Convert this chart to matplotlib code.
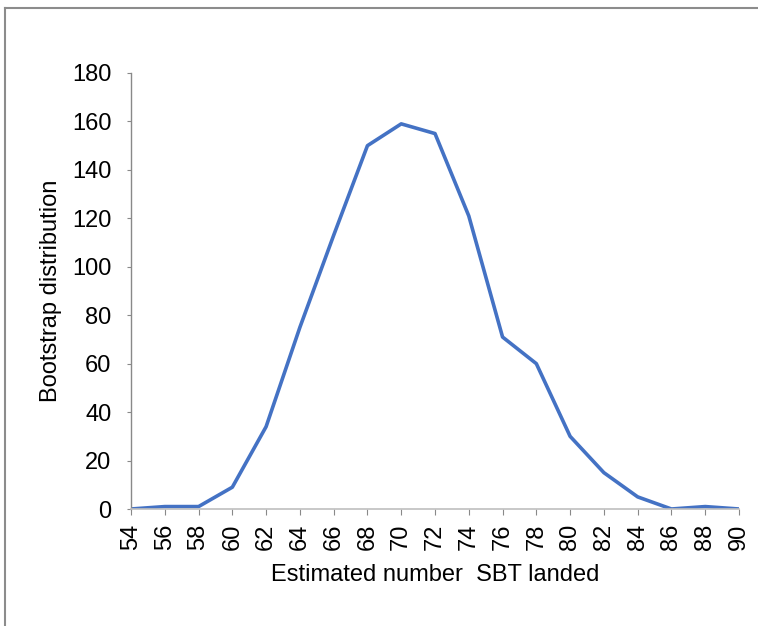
import matplotlib
matplotlib.use("Agg")
import matplotlib.pyplot as plt
from matplotlib.lines import Line2D

plt.rcParams['font.family'] = ['Liberation Sans', 'DejaVu Sans']

# data
landed = [54, 56, 58, 60, 62, 64, 66, 68, 70, 72, 74, 76, 78, 80, 82, 84, 86, 88, 90]
counts = [0, 1, 1, 9, 34, 75, 113, 150, 159, 155, 121, 71, 60, 30, 15, 5, 0, 1, 0]
y_ticks = [0, 20, 40, 60, 80, 100, 120, 140, 160, 180]

dpi = 100
W, H = 758, 626
fig = plt.figure(figsize=(W / dpi, H / dpi), dpi=dpi)
ax = fig.add_axes([131 / W, 1 - 509 / H, (739 - 131) / W, (509 - 73) / H])

# category axis, points sit on the ticks
pos = list(range(len(landed)))
ax.plot(pos, counts, color='#4472C4', lw=2.6, solid_joinstyle='round')

ax.set_xlim(0, len(landed) - 1)
ax.set_ylim(0, 180)
ax.set_xticks(pos)
ax.set_xticklabels([str(v) for v in landed], rotation=90, fontsize=17)
ax.set_yticks(y_ticks)
ax.tick_params(axis='y', labelsize=17, length=3, color='#898989', pad=11)
ax.tick_params(axis='x', length=4.5, color='#898989', pad=6)

for s in ['top', 'right']:
    ax.spines[s].set_visible(False)
ax.spines['left'].set_color('#898989')
ax.spines['bottom'].set_color('#BFBFBF')
ax.spines['left'].set_linewidth(1)
ax.spines['bottom'].set_linewidth(1.2)

ax.set_xlabel('Estimated number  SBT landed', fontsize=17)
ax.set_ylabel('Bootstrap distribution', fontsize=17)
ax.xaxis.set_label_coords(0.5, -(564 - 509) / 436)
ax.yaxis.set_label_coords(-(131 - 62) / 608, 0.5)

# outer frame lines (top and left)
fig.add_artist(Line2D([5 / W, 1], [1 - 8 / H, 1 - 8 / H], transform=fig.transFigure, color='#8c8c8c', lw=1.5))
fig.add_artist(Line2D([5 / W, 5 / W], [0, 1 - 8 / H], transform=fig.transFigure, color='#8c8c8c', lw=1.5))

fig.savefig('out.png', dpi=dpi)
